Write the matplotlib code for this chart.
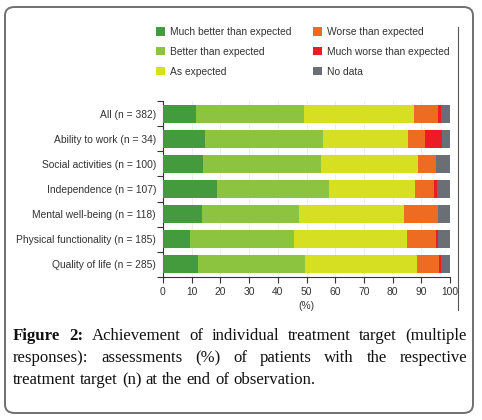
import matplotlib
matplotlib.use("Agg")
import matplotlib.pyplot as plt
from matplotlib.patches import FancyBboxPatch
from matplotlib.lines import Line2D

# Data
#------------------------------------------------------------------------
categories = ["All (n = 382)", "Ability to work (n = 34)", "Social activities (n = 100)",
              "Independence (n = 107)", "Mental well-being (n = 118)",
              "Physical functionality (n = 185)", "Quality of life (n = 285)"]
much_better = [11.6, 14.7, 14.1, 18.8, 13.7, 9.3, 12.3]
better = [37.6, 41.2, 41.0, 39.2, 33.7, 36.2, 37.2]
as_expected = [38.3, 29.5, 33.8, 29.8, 36.6, 39.5, 39.0]
worse = [8.3, 5.9, 6.1, 6.6, 11.8, 10.0, 7.5]
much_worse = [1.1, 5.9, 0.0, 0.9, 0.0, 0.8, 1.0]
no_data = [3.1, 2.8, 5.0, 4.7, 4.2, 4.2, 3.0]

series_names = ["Much better than expected", "Better than expected", "As expected",
                "Worse than expected", "Much worse than expected", "No data"]
series = [much_better, better, as_expected, worse, much_worse, no_data]
colors = ["#449b3e", "#8cc440", "#d7df23", "#ee6b22", "#ec1c26", "#6b6f75"]

x_ticks = list(range(0, 101, 10))

caption_lines = [
    ("Figure 2: Achievement of individual treatment target (multiple", True),
    ("responses): assessments (%) of patients with the respective", True),
    ("treatment target (n) at the end of observation.", False),
]

# Figure
#------------------------------------------------------------------------
fig = plt.figure(figsize=(4.82, 4.20), dpi=100)
W, H = 482, 420
fs = 7.4

ax = fig.add_axes([163 / W, 1 - 277 / H, (450 - 163) / W, (277 - 101) / H])

ypos = list(range(len(categories)))
left = [0.0] * len(categories)
for name, vals, col in zip(series_names, series, colors):
    ax.barh(ypos, vals, left=left, height=0.72, color=col, label=name, zorder=3)
    left = [l + v for l, v in zip(left, vals)]

ax.set_xlim(0, 100)
ax.set_ylim(len(categories) - 0.5, -0.5)
ax.set_xticks(x_ticks)
ax.set_xticklabels([str(t) for t in x_ticks], fontsize=fs, color="#333333")
ax.set_yticks(ypos)
ax.set_yticklabels(categories, fontsize=fs, color="#333333")
ax.tick_params(axis="y", length=0, pad=5)
ax.set_yticks([i - 0.5 for i in range(len(categories) + 1)], minor=True)
ax.tick_params(axis="y", which="minor", length=4, width=0.8, color="#333333")
ax.tick_params(axis="x", length=4, width=0.8, color="#333333", pad=3)
ax.xaxis.grid(True, color="#ebebeb", linewidth=0.6, zorder=0)
for s in ["top", "right"]:
    ax.spines[s].set_visible(False)
for s in ["left", "bottom"]:
    ax.spines[s].set_color("#333333")
    ax.spines[s].set_linewidth(0.8)
ax.set_xlabel("(%)", fontsize=fs, color="#333333", labelpad=3)

for lab in ax.get_xticklabels() + ax.get_yticklabels():
    lab.set_family("Liberation Sans")
ax.xaxis.label.set_family("Liberation Sans")

leg = fig.legend(loc="upper left", bbox_to_anchor=(156 / W, 1 - 27 / H), ncol=2,
                 frameon=False, prop={"family": "Liberation Sans", "size": fs},
                 handlelength=0.9, handleheight=0.9, handletextpad=0.45,
                 columnspacing=2.1, labelspacing=0.95, borderpad=0, borderaxespad=0)
for t in leg.get_texts():
    t.set_color("#333333")

# Frame and separator line
frame = FancyBboxPatch((5 / W, 7 / H), 468 / W, 406 / H,
                       boxstyle="round,pad=0,rounding_size=0.02",
                       transform=fig.transFigure, facecolor="none",
                       edgecolor="#707070", linewidth=1.4)
fig.patches.append(frame)
fig.lines.append(Line2D([458 / W, 458 / W], [1 - 27 / H, 1 - 310 / H],
                        transform=fig.transFigure, color="#555555", linewidth=0.8))

# Caption (justified)
renderer = fig.canvas.get_renderer()
x0, x1 = 13, 467
baselines = [340, 362, 384]
cap_font = "Liberation Serif"
cap_size = 12.1
for (line, just), yb in zip(caption_lines, baselines):
    words = line.split(" ")
    texts = []
    for w in words:
        weight = "bold" if w in ("Figure", "2:") else "normal"
        t = fig.text(0, 1 - yb / H, w, fontsize=cap_size, family=cap_font,
                     weight=weight, va="baseline", ha="left", color="#111111")
        texts.append(t)
    widths = [t.get_window_extent(renderer).width for t in texts]
    if just:
        gap = (x1 - x0 - sum(widths)) / (len(words) - 1)
    else:
        sp = fig.text(0, 0, "a a", fontsize=cap_size, family=cap_font)
        sp2 = fig.text(0, 0, "aa", fontsize=cap_size, family=cap_font)
        gap = sp.get_window_extent(renderer).width - sp2.get_window_extent(renderer).width
        sp.remove()
        sp2.remove()
    x = x0
    for t, w in zip(texts, widths):
        t.set_x(x / W)
        x += w + gap

fig.savefig("out.png", dpi=100)
